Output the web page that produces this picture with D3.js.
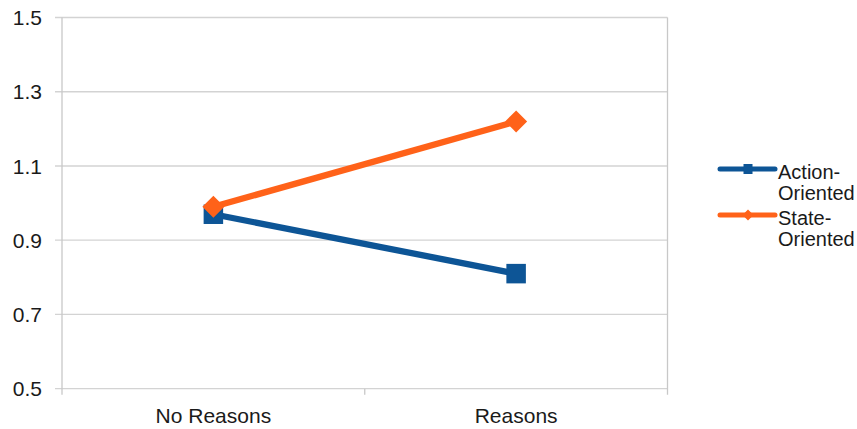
<!DOCTYPE html>
<html><head><meta charset="utf-8">
<script src="https://cdn.jsdelivr.net/npm/d3@7"></script>
<style>
html,body{margin:0;padding:0;background:#fff;}
svg{display:block;font-family:"Liberation Sans",Arial,sans-serif;}
</style></head>
<body><svg id="c" width="857" height="429"></svg>
<script>
const categories = ["No Reasons", "Reasons"];
const actionValues = [0.97, 0.81];
const stateValues = [0.99, 1.22];
const seriesNames = [["Action-", "Oriented"], ["State-", "Oriented"]];
const yTicks = [0.5, 0.7, 0.9, 1.1, 1.3, 1.5];

const series = [
  {name: seriesNames[0], values: actionValues, color: "#0d5596", marker: "square"},
  {name: seriesNames[1], values: stateValues, color: "#ff6219", marker: "diamond"}
];

const svg = d3.select("#c");
const L = 62, R = 667.5, T = 17.5, B = 388.7;

const x = d3.scaleBand().domain(categories).range([L, R]);
const y = d3.scaleLinear().domain([0.5, 1.5]).range([B, T]);

// gridlines
svg.append("g").selectAll("line").data(yTicks).join("line")
  .attr("x1", 55).attr("x2", R)
  .attr("y1", d => y(d)).attr("y2", d => y(d))
  .attr("stroke", "#d3d3d3").attr("stroke-width", 1.3);

// left and right border
svg.append("line").attr("x1", L).attr("x2", L).attr("y1", T).attr("y2", B + 6)
  .attr("stroke", "#c8c8c8").attr("stroke-width", 1.3);
svg.append("line").attr("x1", R).attr("x2", R).attr("y1", T).attr("y2", B + 6)
  .attr("stroke", "#c8c8c8").attr("stroke-width", 1.3);
// middle bottom tick
svg.append("line").attr("x1", (L + R) / 2).attr("x2", (L + R) / 2).attr("y1", B).attr("y2", B + 6)
  .attr("stroke", "#c8c8c8").attr("stroke-width", 1.3);

// y labels
svg.append("g").selectAll("text").data(yTicks).join("text")
  .attr("x", 42).attr("y", d => y(d)).attr("dy", "0.36em")
  .attr("text-anchor", "end").attr("font-size", 21).attr("fill", "#1a1a1a")
  .text(d => d.toFixed(1));

// x labels
svg.append("g").selectAll("text").data(categories).join("text")
  .attr("x", d => x(d) + x.bandwidth() / 2).attr("y", 422.5)
  .attr("text-anchor", "middle").attr("font-size", 21).attr("fill", "#1a1a1a")
  .text(d => d);

const line = d3.line().x((d, i) => x(categories[i]) + x.bandwidth() / 2).y(d => y(d));

function drawMarker(g, type, cx, cy, size, color) {
  if (type === "square") {
    g.append("rect").attr("x", cx - size / 2).attr("y", cy - size / 2)
      .attr("width", size).attr("height", size).attr("fill", color);
  } else {
    const h = size / 2;
    g.append("path").attr("d", `M${cx},${cy - h}L${cx + h},${cy}L${cx},${cy + h}L${cx - h},${cy}Z`)
      .attr("fill", color);
  }
}

series.forEach(s => {
  const g = svg.append("g");
  g.append("path").datum(s.values).attr("d", line)
    .attr("fill", "none").attr("stroke", s.color).attr("stroke-width", 6.3)
    .attr("stroke-linejoin", "round");
  s.values.forEach((v, i) => {
    drawMarker(g, s.marker, x(categories[i]) + x.bandwidth() / 2, y(v),
      s.marker === "square" ? 19.5 : 22, s.color);
  });
});

// legend
const legendY = [169, 215];
series.forEach((s, i) => {
  const g = svg.append("g");
  const ly = legendY[i];
  g.append("line").attr("x1", 720).attr("x2", 775).attr("y1", ly).attr("y2", ly)
    .attr("stroke", s.color).attr("stroke-width", 5).attr("stroke-linecap", "round");
  if (s.marker === "square") {
    g.append("rect").attr("x", 743.5).attr("y", ly - 5).attr("width", 9).attr("height", 10).attr("fill", s.color);
  } else {
    drawMarker(g, "diamond", 748, ly, 11, s.color);
  }
  g.append("text").attr("x", 778).attr("y", ly + 10).attr("font-size", 20).attr("fill", "#1a1a1a")
    .selectAll("tspan").data(s.name).join("tspan")
    .attr("x", 778).attr("dy", (d, j) => j === 0 ? 0 : 20.5).text(d => d);
});
</script></body></html>
